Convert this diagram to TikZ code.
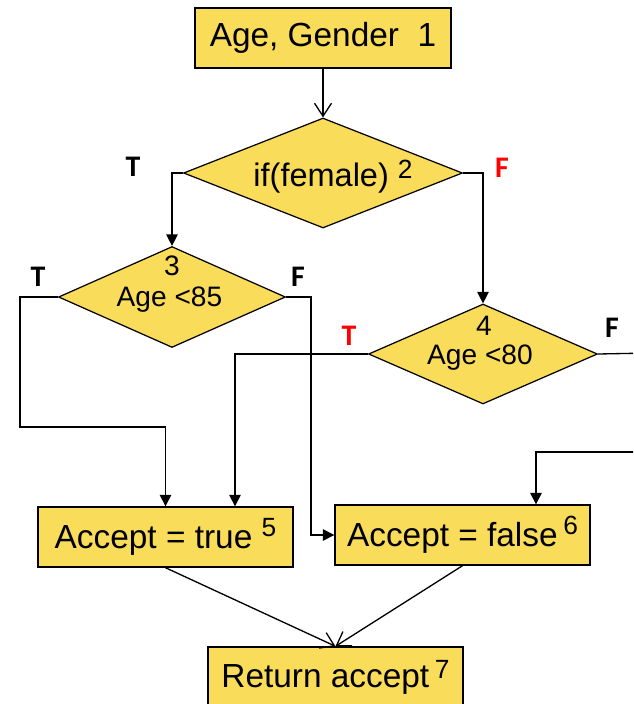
\documentclass[tikz,border=0pt]{standalone}
\usepackage{fontspec}
\setmainfont{Liberation Sans}
\newfontfamily\labelfont{Carlito}
\usepackage{tikz}
\usetikzlibrary{shapes,arrows,positioning,calc,arrows.meta}
\definecolor{boxyellow}{RGB}{249,220,90}
\definecolor{falsered}{RGB}{255,0,0}
\newcommand{\stepno}[2][0.24cm]{\raisebox{#1}{\fontsize{15}{17}\selectfont #2}}

\begin{document}
\begin{tikzpicture}[x=0.02cm, y=-0.02cm,
    procbox/.style={draw, line width=0.8pt, fill=boxyellow, minimum width=5.1cm, minimum height=1.2cm, inner sep=0pt, font=\fontsize{19}{23}\selectfont},
    decision/.style={diamond, draw, line width=0.7pt, fill=boxyellow, inner sep=0pt},
    dectext/.style={anchor=base, inner sep=0pt, font=\fontsize{16}{19}\selectfont},
    tflabel/.style={font=\labelfont\bfseries\fontsize{17}{20}\selectfont, inner sep=0pt},
    arr/.style={line width=0.75pt, -{Triangle[length=0.23cm, width=0.23cm]}},
    openarr/.style={line width=0.75pt, -{Straight Barb[length=0.26cm, width=0.34cm]}}]

    % Canvas
    \useasboundingbox (0,0) rectangle (633,704);
    \clip (0,0) rectangle (633,704);

    % Process boxes
    \node[procbox, minimum width=5.12cm] (b1) at (323,38) {Age, Gender\ \ 1};
    \node[procbox] (b5) at (165.5,537) {Accept = true \stepno{5}};
    \node[procbox] (b6) at (462.5,535) {Accept = false\,\stepno{6}};
    \node[procbox] (b7) at (335.5,677) {Return accept\,\stepno[0.18cm]{7}};

    % Decisions
    \node[decision, minimum width=5.58cm, minimum height=2.2cm] (d2) at (323,173) {};
    \node[decision, minimum width=4.54cm, minimum height=2.02cm] (d3) at (172,297) {};
    \node[decision, minimum width=4.58cm, minimum height=2.0cm] (d4) at (483,354) {};

    % Decision texts
    \node[dectext, font=\fontsize{18.5}{22}\selectfont] (d2txt) at (333,186) {if(female) \stepno[0.16cm]{2}};
    \node[dectext] (d3num) at (172,275) {3};
    \node[dectext] (d3txt) at (169.5,306) {Age <85};
    \node[dectext] (d4num) at (484,335) {4};
    \node[dectext] (d4txt) at (480,364) {Age <80};

    % True / false labels
    \foreach \nm/\col/\px/\py/\tf in {t2/black/133/167/T, f2/falsered/502/168/F, t3/black/38/277/T, f3/black/298/277/F, t4/falsered/349/336/T, f4/black/612/328/F} {
        \node[tflabel, text=\col] (\nm) at (\px,\py) {\tf};
    }

    % Bends and off-page ends
    \coordinate (loopT3) at (20,427);
    \coordinate (bendF3) at (311,297);
    \coordinate (offA) at (650,353);
    \coordinate (offB) at (650,452);

    % Connectors
    \draw[openarr] (b1.south) -- (d2.north);
    \draw[arr] (d2.west) -| (d3.north);
    \draw[arr] (d2.east) -| (d4.north);
    \draw[arr] (d3.west) -| (loopT3) -| (b5.north);
    \draw[arr] (d3.east) -- (bendF3) |- (b6.west);
    \draw[arr] (d4.west) -| ($(b5.north)+(69.5,0)$);
    \draw[line width=0.75pt] (d4.east) -- (offA);
    \draw[arr] (offB) -| ($(b6.north)+(73.5,0)$);
    \draw[openarr] (b5.south) -- (b7.north);
    \draw[openarr] (b6.south) -- (b7.north);
\end{tikzpicture}
\end{document}
